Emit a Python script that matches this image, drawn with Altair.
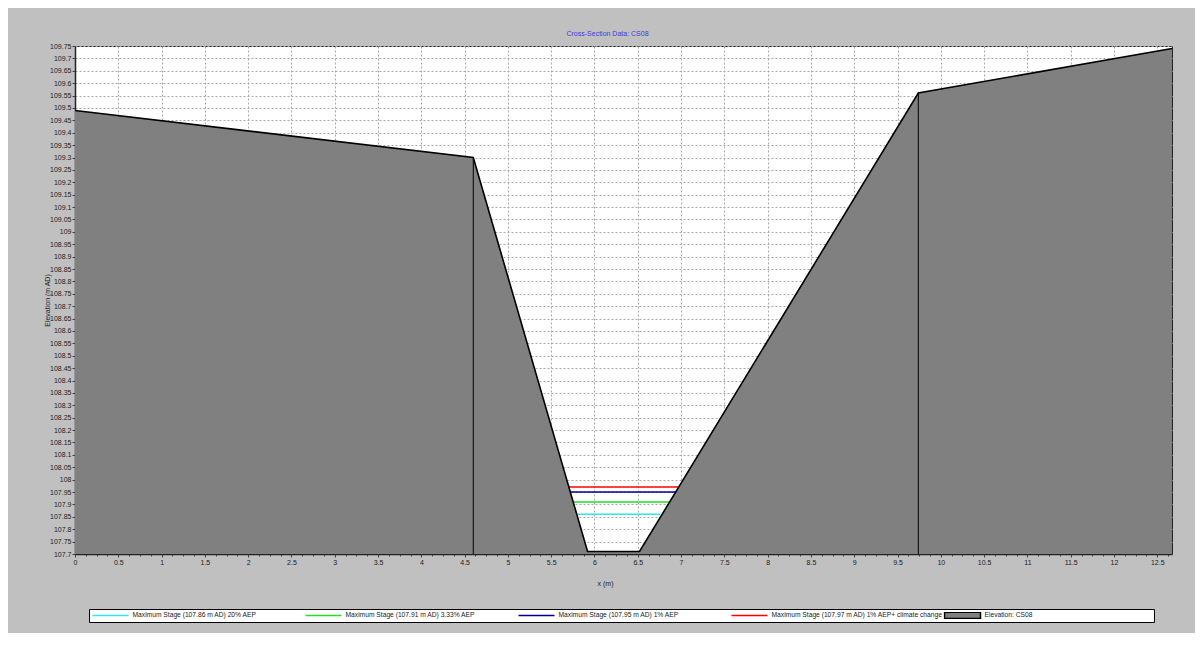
import altair as alt
import pandas as pd

FONT = "Liberation Sans"

# ground profile of cross-section CS08
prof_x = [0.0, 4.6, 5.92, 6.52, 9.74, 12.67]
prof_z = [109.49, 109.3, 107.71, 107.71, 109.56, 109.74]

# bank markers
bank_x = [4.6, 9.74]
bank_z = [109.3, 109.56]

# maximum stage lines
stage_names = [
    "Maximum Stage (107.86 m AD) 20% AEP",
    "Maximum Stage (107.91 m AD) 3.33% AEP",
    "Maximum Stage (107.95 m AD) 1% AEP",
    "Maximum Stage (107.97 m AD) 1% AEP+ climate change",
]
stage_z = [107.86, 107.91, 107.95, 107.97]
stage_x1 = [5.80, 5.755, 5.72, 5.705]
stage_x2 = [6.76, 6.866, 6.938, 6.973]

elev_name = "Elevation: CS08"
series_names = stage_names + [elev_name]
stroke_colors = ["#2EE6E6", "#22DD22", "#000090", "#FF0000", "#000000"]
fill_colors = ["transparent", "transparent", "transparent", "transparent", "#808080"]
LINE_SYM = "M-1,0H1"
BOX_SYM = "M-1,-0.17H1V0.17H-1Z"
legend_shapes = [LINE_SYM, LINE_SYM, LINE_SYM, LINE_SYM, BOX_SYM]

y_min, y_max = 107.7, 109.75
x_min, x_max = 0.0, 12.67
y_ticks = [round(107.7 + 0.05 * i, 2) for i in range(42)]
x_ticks = [0.125 * i for i in range(102)]

prof_df = pd.DataFrame({"x": prof_x, "z": prof_z, "series": elev_name})
bank_df = pd.DataFrame({"x": bank_x, "z": bank_z})
stage_df = pd.DataFrame({"x1": stage_x1, "x2": stage_x2, "z": stage_z, "series": stage_names})
legend_df = pd.DataFrame({"series": series_names})

xs = alt.Scale(domain=[x_min, x_max], nice=False, zero=False)
ys = alt.Scale(domain=[y_min, y_max], nice=False, zero=False)
stroke_scale = alt.Scale(domain=series_names, range=stroke_colors)
fill_scale = alt.Scale(domain=series_names, range=fill_colors)
shape_scale = alt.Scale(domain=series_names, range=legend_shapes)

# pad the last legend label with no-break spaces (closed by a zero-width
# space so they are not trimmed) so the white legend box stretches as far
# right as in the original
PAD = "\u00a0" * 64 + "\u200b"
leg = alt.Legend(
    title=None,
    orient="none",
    legendX=14,
    legendY=563,
    direction="horizontal",
    columns=5,
    symbolSize=1296,
    symbolStrokeWidth=1.5,
    symbolOpacity=1,
    symbolOffset=0,
    labelFont=FONT,
    labelFontSize=6.7,
    labelColor="#222222",
    labelOffset=3,
    labelLimit=400,
    labelExpr=f"datum.value === '{elev_name}' ? datum.label + '{PAD}' : datum.label",
    clipHeight=7,
    rowPadding=0,
    columnPadding=0,
    gridAlign="all",
    padding=2.5,
    fillColor="white",
    strokeColor="black",
)

x_axis = alt.Axis(
    values=x_ticks,
    tickCount=1000,
    format=".1~f",
    labelExpr="datum.value % 0.5 === 0 ? datum.label : ''",
    labelOverlap=False,
    labelFlush=False,
    tickSize={"condition": {"test": "datum.value % 0.5 === 0", "value": 3}, "value": 2},
    gridOpacity={"condition": {"test": "datum.value % 0.5 === 0", "value": 1}, "value": 0},
    title="x (m)",
    titleX=530,
    titleY=29,
    titleAlign="center",
    titleBaseline="middle",
)
y_axis = alt.Axis(
    values=y_ticks,
    tickCount=1000,
    format=".2~f",
    labelOverlap=False,
    labelFlush=False,
    tickSize=3,
    title="Elevation (m AD)",
    titleX=-28,
    titleY=254,
    titleAngle=270,
    titleAlign="center",
    titleBaseline="middle",
)

area = alt.Chart(prof_df).mark_area(interpolate="linear", opacity=1).encode(
    x=alt.X("x:Q", scale=xs, axis=x_axis),
    y=alt.Y("z:Q", scale=ys, axis=y_axis),
    y2=alt.datum(y_min),
    fill=alt.Fill("series:N", scale=fill_scale, legend=leg),
)

banks = alt.Chart(bank_df).mark_rule(color="black", strokeWidth=1).encode(
    x=alt.X("x:Q", scale=xs, title="x (m)"),
    y=alt.Y("z:Q", scale=ys, title="Elevation (m AD)"),
    y2=alt.datum(y_min),
)

stages = alt.Chart(stage_df).mark_rule(strokeWidth=1.5).encode(
    x=alt.X("x1:Q", scale=xs, title="x (m)"),
    x2="x2:Q",
    y=alt.Y("z:Q", scale=ys, title="Elevation (m AD)"),
    stroke=alt.Stroke("series:N", scale=stroke_scale, legend=leg),
)

profile = alt.Chart(prof_df).mark_line(color="black", strokeWidth=1.6).encode(
    x=alt.X("x:Q", scale=xs, title="x (m)"),
    y=alt.Y("z:Q", scale=ys, title="Elevation (m AD)"),
)

# invisible points that only carry the combined legend
legend_layer = alt.Chart(legend_df).mark_point(opacity=0, filled=False).encode(
    stroke=alt.Stroke("series:N", scale=stroke_scale, legend=leg),
    fill=alt.Fill("series:N", scale=fill_scale, legend=leg),
    shape=alt.Shape("series:N", scale=shape_scale, legend=leg),
)

chart = (
    alt.layer(area, banks, stages, profile, legend_layer)
    .properties(
        width=1097,
        height=508,
        autosize=alt.AutoSizeParams(type="none"),
        padding={"left": 67, "top": 38, "right": 23, "bottom": 79},
        background="#C0C0C0",
        view=alt.ViewBackground(fill="white", stroke="#222222", strokeWidth=1),
        title=alt.TitleParams(
            "Cross-Section Data: CS08",
            fontSize=7,
            font=FONT,
            fontWeight="normal",
            color="#3A3AE0",
            anchor="middle",
            offset=5,
            dx=-16,
        ),
    )
    .configure_view(fill="white", stroke="#222222", strokeWidth=1)
    .configure_axis(
        labelFont=FONT,
        labelFontSize=7,
        labelColor="#222222",
        labelPadding=1,
        titleFont=FONT,
        titleFontSize=7,
        titleFontWeight="normal",
        titleColor="#222222",
        domainColor="#222222",
        domainWidth=1.5,
        tickColor="#444444",
        gridColor="#A8A8A8",
        gridDash=[2, 2],
        gridWidth=1,
    )
)

chart.save("out.html", embed_options={"renderer": "svg", "actions": False})
